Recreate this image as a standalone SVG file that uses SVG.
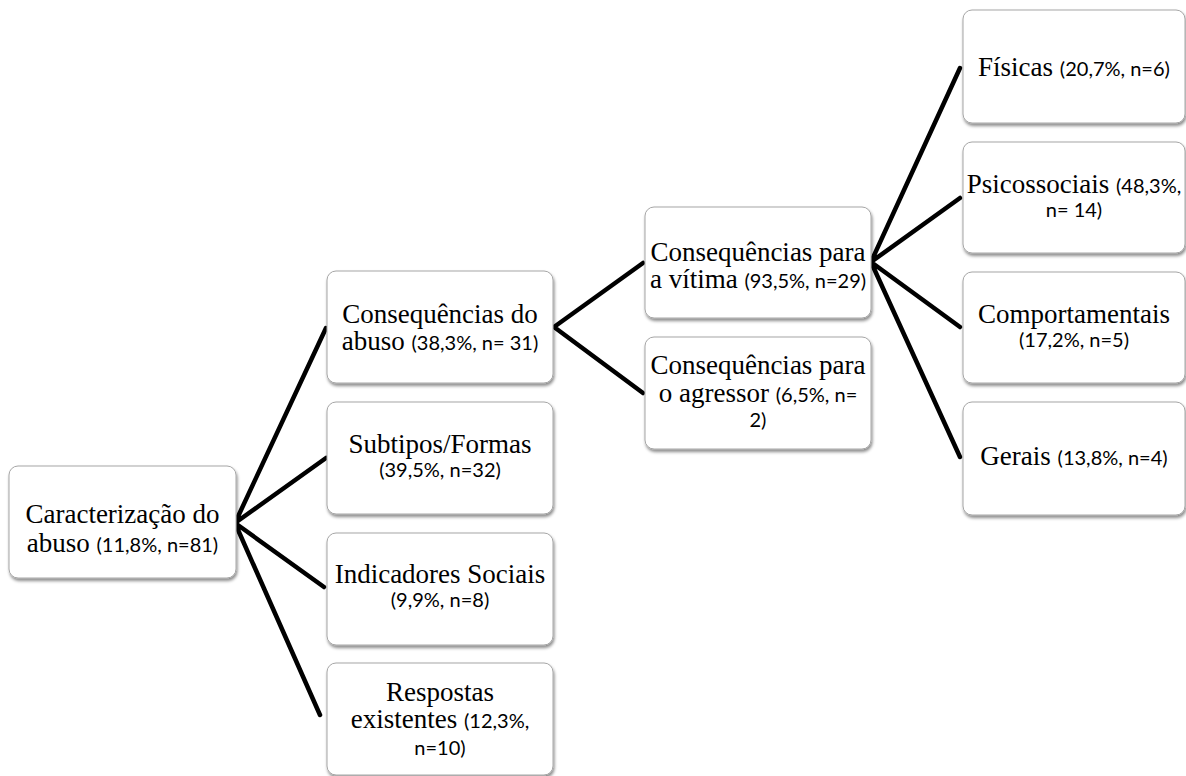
<svg xmlns="http://www.w3.org/2000/svg" width="1186" height="776" viewBox="0 0 1186 776">
<style>
.box{fill:#fff;stroke:#a6a6a6;stroke-width:1;filter:url(#sh)}
.c{stroke:#000;stroke-width:4.5;fill:none;stroke-linecap:round}
.t{font-family:"Liberation Serif","Times New Roman",serif;font-size:27px;fill:#000;text-anchor:middle}
.s{font-family:Lato,"Liberation Sans",sans-serif;font-size:20px}
</style>
<defs>
<filter id="sh" x="-10%" y="-10%" width="125%" height="130%">
<feDropShadow dx="1" dy="2.5" stdDeviation="1.6" flood-color="#000" flood-opacity="0.45"/>
</filter>
</defs>
<rect width="1186" height="776" fill="#fff"/>
<g id="connectors">
<path class="c" d="M235 523L326 328M235 523L326 458M235 523L324 587M235 523L320 715"/>
<path class="c" d="M554 327L643 263M554 327L643 393"/>
<path class="c" d="M871 262L960 68M871 262L960 198M871 262L960 327M871 262L960 457"/>
</g>
<g id="n-root">
<rect class="box" x="9" y="466" width="227" height="112" rx="9"/>
<text class="t" x="122.5" y="523">Caracterização do</text>
<text class="t" x="122.5" y="552">abuso <tspan class="s">(11,8%, n=81)</tspan></text>
</g>
<g id="n-consequencias">
<rect class="box" x="327" y="271" width="226" height="112" rx="9"/>
<text class="t" x="440" y="323">Consequências do</text>
<text class="t" x="440" y="350">abuso <tspan class="s">(38,3%, n= 31)</tspan></text>
</g>
<g id="n-subtipos">
<rect class="box" x="327" y="402" width="226" height="112" rx="9"/>
<text class="t" x="440" y="453">Subtipos/Formas</text>
<text class="t s" x="440" y="477">(39,5%, n=32)</text>
</g>
<g id="n-indicadores">
<rect class="box" x="327" y="533" width="226" height="112" rx="9"/>
<text class="t" x="440" y="583">Indicadores Sociais</text>
<text class="t s" x="440" y="607">(9,9%, n=8)</text>
</g>
<g id="n-respostas">
<rect class="box" x="327" y="663" width="226" height="112" rx="9"/>
<text class="t" x="440" y="701">Respostas</text>
<text class="t" x="440" y="728">existentes <tspan class="s">(12,3%,</tspan></text>
<text class="t s" x="440" y="755">n=10)</text>
</g>
<g id="n-vitima">
<rect class="box" x="645" y="207" width="226" height="111" rx="9"/>
<text class="t" x="758" y="261">Consequências para</text>
<text class="t" x="758" y="288">a vítima <tspan class="s">(93,5%, n=29)</tspan></text>
</g>
<g id="n-agressor">
<rect class="box" x="645" y="337" width="226" height="112" rx="9"/>
<text class="t" x="758" y="374">Consequências para</text>
<text class="t" x="758" y="402">o agressor <tspan class="s">(6,5%, n=</tspan></text>
<text class="t s" x="758" y="427">2)</text>
</g>
<g id="n-fisicas">
<rect class="box" x="963" y="10" width="222" height="113" rx="9"/>
<text class="t" x="1074" y="76">Físicas <tspan class="s">(20,7%, n=6)</tspan></text>
</g>
<g id="n-psicossociais">
<rect class="box" x="963" y="142" width="222" height="111" rx="9"/>
<text class="t" x="1074" y="193">Psicossociais <tspan class="s">(48,3%,</tspan></text>
<text class="t s" x="1074" y="217">n= 14)</text>
</g>
<g id="n-comportamentais">
<rect class="box" x="963" y="272" width="222" height="111" rx="9"/>
<text class="t" x="1074" y="323">Comportamentais</text>
<text class="t s" x="1074" y="347">(17,2%, n=5)</text>
</g>
<g id="n-gerais">
<rect class="box" x="963" y="402" width="222" height="113" rx="9"/>
<text class="t" x="1074" y="465">Gerais <tspan class="s">(13,8%, n=4)</tspan></text>
</g>
</svg>
